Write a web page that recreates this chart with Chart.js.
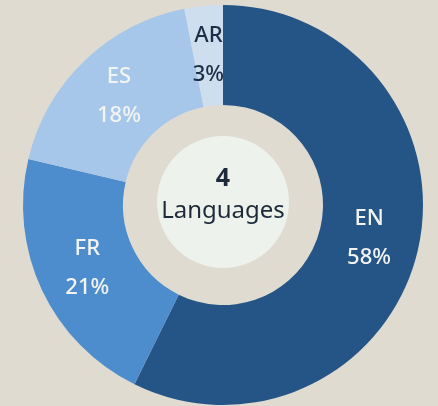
<!DOCTYPE html>
<html lang="en">
<head>
  <meta charset="UTF-8" />
  <title>Languages Doughnut</title>
  <script src="https://cdn.jsdelivr.net/npm/chart.js"></script>
  <style>
    html, body { margin: 0; padding: 0; background: #dfdbd1; }
    canvas { display: block; }
  </style>
</head>
<body>
  <canvas id="langChart" width="438" height="406"></canvas>

  <script>
    const labels = ["EN", "FR", "ES", "AR"];
    // arc sizes as measured on the picture; printed labels below
    const shares = [57.3, 21.4, 18.2, 3.1];
    const percentLabels = ["58%", "21%", "18%", "3%"];
    const colors = ["#255586", "#4e8dcd", "#a6c7e9", "#cfdeee"];
    const labelColors = ["#f2f4f2", "#f2f4f2", "#f2f4f2", "#1c2f48"];
    const centerCount = "4";
    const centerText = "Languages";

    const fontFamily = "'Noto Sans', 'DejaVu Sans', sans-serif";

    // slice labels + center badge
    const labelPlugin = {
      id: "sliceLabels",
      afterDraw(chart) {
        const ctx = chart.ctx;
        const meta = chart.getDatasetMeta(0);
        ctx.save();
        ctx.textAlign = "center";
        ctx.textBaseline = "middle";
        meta.data.forEach((arc, i) => {
          const mid = (arc.startAngle + arc.endAngle) / 2;
          const r = (arc.innerRadius + arc.outerRadius) / 2;
          const x = arc.x + Math.cos(mid) * r;
          const y = arc.y + Math.sin(mid) * r;
          ctx.fillStyle = labelColors[i];
          ctx.font = "500 22px " + fontFamily;
          ctx.fillText(labels[i], x, y - 20);
          ctx.fillText(percentLabels[i], x, y + 19);
        });

        const first = meta.data[0];
        const cx = first.x, cy = first.y - 3;
        ctx.beginPath();
        ctx.arc(cx, cy, 66, 0, Math.PI * 2);
        ctx.fillStyle = "#eef2ed";
        ctx.fill();

        ctx.fillStyle = "#1c2a3a";
        ctx.font = "bold 25px " + fontFamily;
        ctx.fillText(centerCount, cx, cy - 23);
        ctx.font = "24px " + fontFamily;
        ctx.fillText(centerText, cx, cy + 9);
        ctx.restore();
      }
    };

    new Chart(document.getElementById("langChart"), {
      type: "doughnut",
      data: {
        labels: labels,
        datasets: [{
          data: shares,
          backgroundColor: colors,
          borderWidth: 0
        }]
      },
      options: {
        responsive: false,
        animation: false,
        cutout: "50%",
        layout: { padding: { left: 23, right: 15, top: 5, bottom: 1 } },
        plugins: {
          legend: { display: false },
          tooltip: { enabled: false }
        }
      },
      plugins: [labelPlugin]
    });
  </script>
</body>
</html>
